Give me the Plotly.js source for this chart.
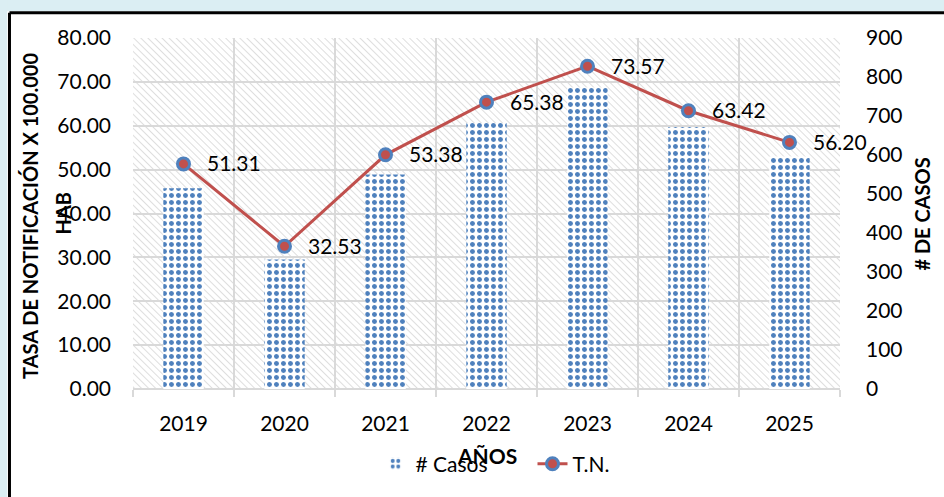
<!DOCTYPE html>
<html>
<head>
<meta charset="utf-8">
<script src="https://cdn.plot.ly/plotly-3.0.1.min.js"></script>
<style>html,body{margin:0;padding:0;background:#fff;}#chart{width:944px;height:497px;}</style>
</head>
<body>
<div id="chart"></div>
<script>
// ---- data ----
var years = ['2019', '2020', '2021', '2022', '2023', '2024', '2025'];
var casos = [515, 332, 550, 682, 773, 672, 596];
var tasa = [51.31, 32.53, 53.38, 65.38, 73.57, 63.42, 56.20];
var seriesNames = ['# Casos', 'T.N.'];
var leftTitle = ['TASA DE NOTIFICACIÓN X 100.000', 'HAB'];
var rightTitle = '# DE CASOS';
var xTitle = 'AÑOS';

// ---- styles ----
var FONT = 'Lato, "Open Sans", sans-serif';
var GRID = '#d9d9d9';
var BLUE = '#4f81bd';
var RED = '#c0504d';

var hatchSvg = "<svg xmlns='http://www.w3.org/2000/svg' width='707' height='355'>" +
  "<defs><pattern id='h' width='5' height='5' patternUnits='userSpaceOnUse' patternTransform='rotate(-45)'>" +
  "<line x1='0' y1='0' x2='0' y2='5' stroke='#cccccc' stroke-width='1.3'/></pattern></defs>" +
  "<rect width='100%' height='100%' fill='url(#h)'/></svg>";

var traces = [
  {
    type: 'bar', name: seriesNames[0], x: years, y: casos, yaxis: 'y',
    width: 0.4,
    marker: {color: 'white', line: {width: 0},
             pattern: {shape: '.', fgcolor: BLUE, bgcolor: 'white', size: 7, solidity: 0.4}},
    hoverinfo: 'skip'
  },
  {
    type: 'scatter', mode: 'lines+markers', name: seriesNames[1], x: years, y: tasa, yaxis: 'y2',
    line: {color: RED, width: 3},
    marker: {color: RED, size: 12, line: {color: BLUE, width: 3}},
    hoverinfo: 'skip'
  }
];

// data labels: x given as category index so the category axis places them on each year
var annotations = tasa.map(function (v, i) {
  return {x: i, y: v, xref: 'x', yref: 'y2', text: v.toFixed(2), showarrow: false,
          xanchor: 'left', yanchor: 'middle', xshift: 21, yshift: 1,
          font: {family: FONT, size: 21, color: '#000'}};
});
annotations.push(
  {x: -0.1457, y: 0.493, xref: 'paper', yref: 'paper', text: '<b>' + leftTitle[0] + '</b>', textangle: -90,
   showarrow: false, xanchor: 'center', yanchor: 'middle', font: {family: FONT, size: 20, color: '#000'}},
  {x: -0.1004, y: 0.5, xref: 'paper', yref: 'paper', text: '<b>' + leftTitle[1] + '</b>', textangle: -90,
   showarrow: false, xanchor: 'center', yanchor: 'middle', font: {family: FONT, size: 20, color: '#000'}},
  {x: 1.116, y: 0.497, xref: 'paper', yref: 'paper', text: '<b>' + rightTitle + '</b>', textangle: -90,
   showarrow: false, xanchor: 'center', yanchor: 'middle', font: {family: FONT, size: 20, color: '#000'}},
  {x: 0.5, y: -0.189, xref: 'paper', yref: 'paper', text: '<b>' + xTitle + '</b>',
   showarrow: false, xanchor: 'center', yanchor: 'middle', font: {family: FONT, size: 21, color: '#000'}}
);

var layout = {
  width: 944, height: 497,
  margin: {l: 133, r: 104, t: 38, b: 104, pad: 0},
  paper_bgcolor: '#ffffff',
  plot_bgcolor: 'rgba(0,0,0,0)',
  font: {family: FONT, size: 21, color: '#000'},
  showlegend: true,
  legend: {orientation: 'h', x: 0.343, xanchor: 'left', y: -0.214, yanchor: 'middle',
           entrywidth: 112, entrywidthmode: 'pixels',
           font: {family: FONT, size: 21, color: '#000'}, bgcolor: 'rgba(0,0,0,0)', traceorder: 'normal'},
  xaxis: {
    type: 'category', range: [-0.5, years.length - 0.5], autorange: false,
    tickson: 'boundaries', showgrid: true, gridcolor: GRID, gridwidth: 2,
    ticks: 'outside', ticklen: 7, tickcolor: GRID, tickwidth: 2,
    tickfont: {family: FONT, size: 21, color: '#000'}, ticklabelstandoff: 20, tickangle: 0,
    showline: false, zeroline: false
  },
  yaxis: {
    side: 'right', range: [0, 900], autorange: false, dtick: 100, showgrid: false, zeroline: false,
    tickfont: {family: FONT, size: 21, color: '#000'}, ticks: '', ticklabelstandoff: 25
  },
  yaxis2: {
    overlaying: 'y', side: 'left', range: [0, 80], autorange: false, dtick: 10, tickformat: '.2f',
    showgrid: true, gridcolor: GRID, gridwidth: 2, zeroline: true, zerolinecolor: GRID, zerolinewidth: 2,
    tickfont: {family: FONT, size: 21, color: '#000'}, ticks: '', ticklabelstandoff: 21
  },
  images: [{
    source: 'data:image/svg+xml;charset=utf-8,' + encodeURIComponent(hatchSvg),
    xref: 'paper', yref: 'paper', x: 0, y: 1, sizex: 1, sizey: 1,
    xanchor: 'left', yanchor: 'top', sizing: 'stretch', layer: 'below'
  }],
  shapes: [
    {type: 'rect', xref: 'paper', yref: 'paper', x0: -0.2, x1: 1.2, y0: 1.0761, y1: 1.15,
     fillcolor: '#dbeef3', line: {width: 0}},
    {type: 'rect', xref: 'paper', yref: 'paper', x0: -0.2, x1: -0.178, y0: -0.35, y1: 1.15,
     fillcolor: '#dbeef3', line: {width: 0}},
    {type: 'line', xref: 'paper', yref: 'paper', x0: -0.1747, x1: 1.2, y0: 1.0718, y1: 1.0718,
     line: {color: '#000', width: 3}},
    {type: 'line', xref: 'paper', yref: 'paper', x0: -0.1747, x1: -0.1747, y0: -0.35, y1: 1.0718,
     line: {color: '#000', width: 3}}
  ],
  annotations: annotations
};

Plotly.newPlot('chart', traces, layout, {staticPlot: true, displayModeBar: false});
</script>
</body>
</html>
